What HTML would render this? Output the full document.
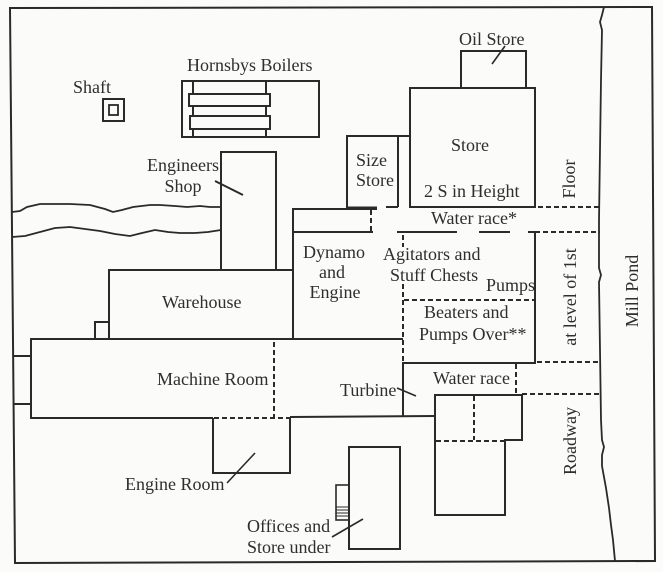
<!DOCTYPE html>
<html><head><meta charset="utf-8"><style>
html,body{margin:0;padding:0;background:#fbfbfa;}
svg{display:block;}
text{font-family:"Liberation Serif",serif;font-size:18px;fill:#2e2e2e;}
</style></head><body>
<svg width="663" height="572" viewBox="0 0 663 572" xmlns="http://www.w3.org/2000/svg">
<rect width="663" height="572" fill="#fbfbfa"/>
<g fill="none" stroke="#2a2a2a" stroke-width="2" stroke-linejoin="miter">
<!-- frame -->
<polygon points="10,8 652,7 655,561 15,563"/>
<!-- mill pond -->
<polyline stroke-width="1.8" points="604,7 602,15 600,22 602,30 601,80 600,150 599,220 599,268 601,275 599,282 600,350 601,420 602,440 604,447 602,455 602,466 606,488 609,508 611,525 613,540 615,561"/>
<!-- shaft -->
<rect x="103" y="99" width="21" height="22"/>
<rect x="109" y="105" width="9" height="10" stroke-width="1.8"/>
<!-- boilers -->
<rect x="182" y="81" width="137" height="56"/>
<line x1="193" y1="81" x2="193" y2="137"/>
<line x1="266" y1="81" x2="266" y2="137"/>
<rect x="189" y="94" width="81" height="12" fill="#fbfbfa"/>
<rect x="190" y="116" width="80" height="13" fill="#fbfbfa"/>
<!-- engineers shop -->
<polyline points="221,270 221,152 276,152 276,270"/>
<line x1="215" y1="181" x2="243" y2="195"/>
<!-- river -->
<polyline stroke-width="1.8" points="12,212 20,211 27,207 40,204 50,204 70,204 90,205 105,209 113,212 122,210 133,207 150,205 160,205 175,206 187,207 200,206 210,207 221,207"/>
<polyline stroke-width="1.8" points="12,237 25,236 40,232 55,228 70,227 85,229 100,231 115,234 130,236 142,233 155,230 168,232 180,233 195,233 208,232 221,230"/>
<!-- warehouse -->
<polyline points="109,339 109,270 293,270"/>
<rect x="95" y="322" width="14" height="17"/>
<!-- dynamo -->
<polyline points="293,339 293,209 377,209"/>
<line x1="348" y1="208" x2="377" y2="208" stroke-width="3"/>
<line x1="293" y1="232" x2="373" y2="232"/>
<!-- size store -->
<polyline points="347,209 347,136 398,136 398,207"/>
<line x1="386" y1="207" x2="398" y2="207"/>
<line x1="398" y1="136" x2="410" y2="136"/>
<!-- store -->
<rect x="410" y="88" width="125" height="119"/>
<rect x="461" y="51" width="65" height="37"/>
<line x1="505" y1="46" x2="492" y2="64" stroke-width="1.6"/>
<!-- water race bottom -->
<line x1="397" y1="232" x2="457" y2="232"/>
<line x1="479" y1="232" x2="510" y2="232"/>
<line x1="528" y1="232" x2="535" y2="232"/>
<line x1="535" y1="232" x2="535" y2="362"/>
<!-- machine room -->
<polyline points="403,339 31,339 31,418 213,418"/>
<line x1="14" y1="356" x2="31" y2="356"/>
<line x1="14" y1="404" x2="31" y2="404"/>
<polyline points="213,418 213,473 290,473 290,418"/>
<line x1="290" y1="417" x2="435" y2="416"/>
<line x1="227" y1="483" x2="255" y2="453" stroke-width="1.6"/>
<!-- turbine / water race -->
<polyline points="403,362 403,416"/>
<line x1="403" y1="363" x2="536" y2="363"/>
<line x1="397" y1="388" x2="416" y2="396" stroke-width="1.6"/>
<!-- lower right building -->
<polygon points="435,395 522,395 522,440 505,440 505,515 435,515"/>
<!-- offices -->
<rect x="349" y="447" width="51" height="102"/>
<rect x="336" y="485" width="13" height="35" stroke-width="1.6"/>
<g stroke-width="1">
<line x1="336" y1="507" x2="349" y2="507"/>
<line x1="336" y1="510" x2="349" y2="510"/>
<line x1="336" y1="513" x2="349" y2="513"/>
<line x1="336" y1="516" x2="349" y2="516"/>
</g>
<line x1="363" y1="519" x2="332" y2="537" stroke-width="1.6"/>
</g>
<!-- dashed lines -->
<g fill="none" stroke="#2a2a2a" stroke-width="2" stroke-dasharray="5 3">
<line x1="371" y1="210" x2="371" y2="232"/>
<line x1="538" y1="207" x2="600" y2="207"/>
<line x1="535" y1="232" x2="600" y2="232"/>
<line x1="403" y1="235" x2="403" y2="247"/>
<line x1="403" y1="284" x2="403" y2="362"/>
<line x1="404" y1="300" x2="535" y2="300"/>
<line x1="537" y1="362" x2="600" y2="362"/>
<line x1="522" y1="394" x2="600" y2="394"/>
<line x1="516" y1="364" x2="516" y2="394"/>
<line x1="474" y1="396" x2="474" y2="440"/>
<line x1="436" y1="441" x2="504" y2="441"/>
<line x1="274" y1="342" x2="274" y2="417"/>
<line x1="214" y1="418" x2="290" y2="418"/>
</g>
<!-- labels -->
<text x="73" y="93">Shaft</text>
<text x="187" y="71">Hornsbys Boilers</text>
<text x="183" y="171" text-anchor="middle">Engineers</text>
<text x="183" y="192" text-anchor="middle">Shop</text>
<text x="459" y="45">Oil Store</text>
<text x="470" y="151" text-anchor="middle">Store</text>
<text x="424" y="197">2 S in Height</text>
<text x="356" y="166">Size</text>
<text x="356" y="186">Store</text>
<text x="431" y="224">Water race*</text>
<text x="334" y="258" text-anchor="middle">Dynamo</text>
<text x="332" y="278" text-anchor="middle">and</text>
<text x="335" y="298" text-anchor="middle">Engine</text>
<text x="383" y="260">Agitators and</text>
<text x="390" y="281">Stuff Chests</text>
<text x="486" y="291">Pumps</text>
<text x="424" y="318">Beaters and</text>
<text x="419" y="340">Pumps Over**</text>
<text x="162" y="308">Warehouse</text>
<text x="157" y="385">Machine Room</text>
<text x="125" y="490">Engine Room</text>
<text x="340" y="396">Turbine</text>
<text x="433" y="384">Water race</text>
<text x="247" y="532">Offices and</text>
<text x="247" y="553">Store under</text>
<text transform="translate(575,179) rotate(-90)" text-anchor="middle">Floor</text>
<text transform="translate(576,297) rotate(-90)" text-anchor="middle">at level of 1st</text>
<text transform="translate(576,441) rotate(-90)" text-anchor="middle">Roadway</text>
<text transform="translate(638,291) rotate(-90)" text-anchor="middle">Mill Pond</text>
</svg>
</body></html>
